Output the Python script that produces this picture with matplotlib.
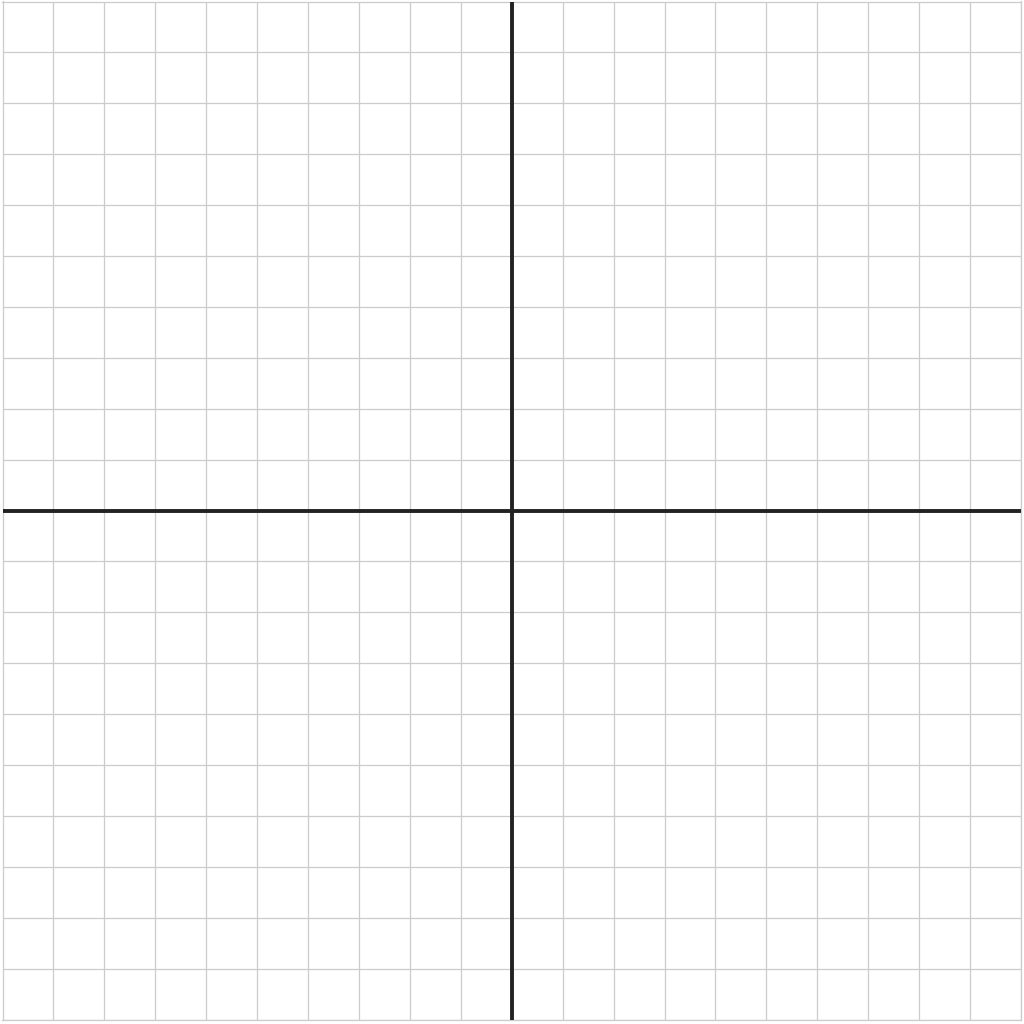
import matplotlib
matplotlib.use('Agg')
import matplotlib.pyplot as plt
import numpy as np

# blank coordinate grid, -10..10 on both axes
x_range = [-10, 10]
y_range = [-10, 10]
grid_step = 1

fig = plt.figure(figsize=(10.24, 10.24), dpi=100)
ax = fig.add_axes([2.5 / 1024, 4.5 / 1024, 1018.5 / 1024, 1018 / 1024])

ticks_x = np.arange(x_range[0], x_range[1] + grid_step, grid_step)
ticks_y = np.arange(y_range[0], y_range[1] + grid_step, grid_step)
ax.set_xticks(ticks_x)
ax.set_yticks(ticks_y)
ax.set_xlim(x_range)
ax.set_ylim(y_range)
ax.tick_params(length=0, labelbottom=False, labelleft=False)
ax.grid(True, color='#cccccc', linewidth=0.9)
ax.set_axisbelow(True)
for s in ax.spines.values():
    s.set_color('#cccccc')
    s.set_linewidth(0.9)

ax.axhline(0, color='#222222', linewidth=2.8, zorder=3)
ax.axvline(0, color='#222222', linewidth=2.8, zorder=3)

fig.savefig('out.png', dpi=100, facecolor='white')
